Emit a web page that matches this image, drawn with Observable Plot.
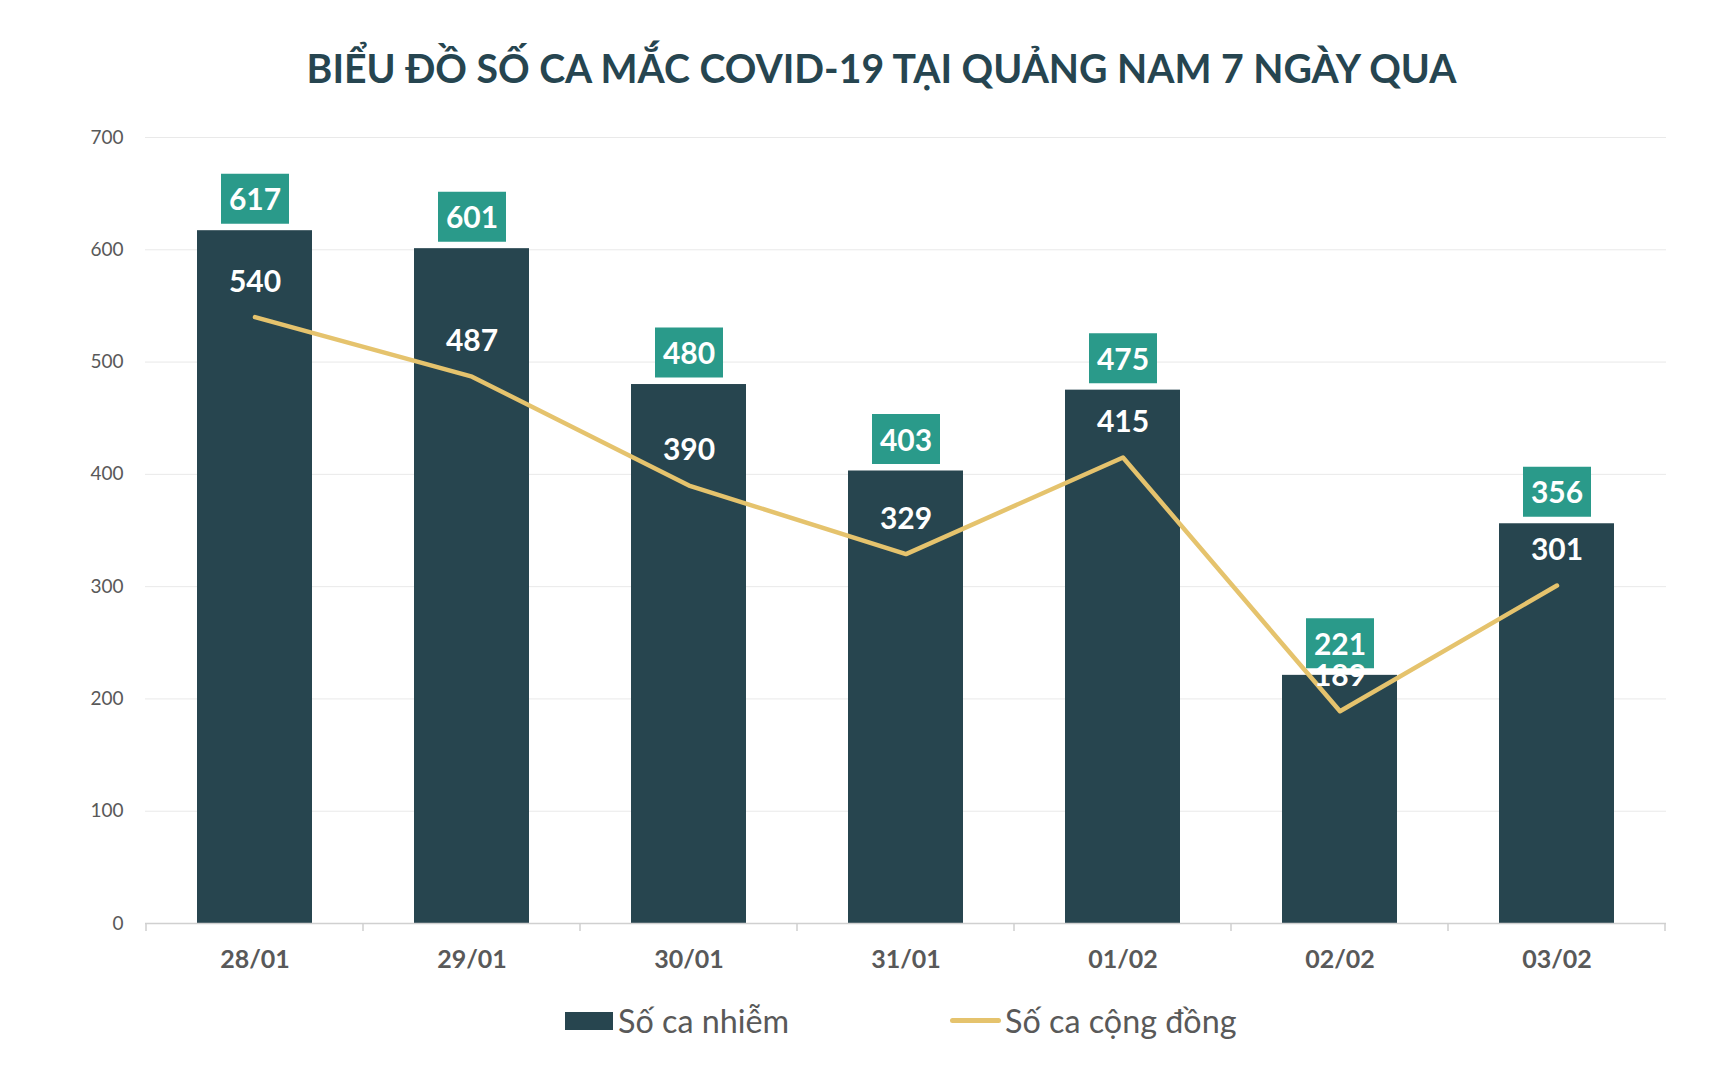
<!DOCTYPE html>
<html><head><meta charset="utf-8">
<script src="https://cdn.jsdelivr.net/npm/d3@7"></script>
<script src="https://cdn.jsdelivr.net/npm/@observablehq/plot@0.6"></script>
<style>
body{margin:0;background:#fff;font-family:Lato,sans-serif;width:1728px;height:1072px;overflow:hidden;position:relative}
#title{position:absolute;left:0;top:40px;width:1763px;text-align:center;font-weight:bold;font-size:39.2px;line-height:56px;color:#264550;white-space:nowrap}
#chart{position:absolute;left:0;top:110px}
.leg{position:absolute;top:998px;height:45px;display:flex;align-items:center;font-size:32.3px;color:#595959;white-space:nowrap}
.sw-bar{width:48px;height:18px;background:#27454f;margin-right:5px}
.sw-line{width:51px;height:5px;border-radius:3px;background:#e5c36d;margin-right:4px}
</style></head>
<body>
<div id="title"></div>
<div id="chart"></div>
<div class="leg" id="leg1" style="left:565px"><div class="sw-bar"></div><span></span></div>
<div class="leg" id="leg2" style="left:950px"><div class="sw-line"></div><span></span></div>
<script>
const titleText = "BIỂU ĐỒ SỐ CA MẮC COVID-19 TẠI QUẢNG NAM 7 NGÀY QUA";
const dates = ["28/01","29/01","30/01","31/01","01/02","02/02","03/02"];
const infected = [617,601,480,403,475,221,356];
const community = [540,487,390,329,415,189,301];
const yTicks = [0,100,200,300,400,500,600,700];
const seriesNames = ["Số ca nhiễm","Số ca cộng đồng"];

document.getElementById("title").textContent = titleText;
document.querySelector("#leg1 span").textContent = seriesNames[0];
document.querySelector("#leg2 span").textContent = seriesNames[1];

const rows = dates.map((d,i)=>({date:d, infected:infected[i], community:community[i]}));
const PAD_INNER = 0.47;

const boxSymbol = {draw(ctx){ ctx.moveTo(-34,-25); ctx.lineTo(34,-25); ctx.lineTo(34,25); ctx.lineTo(-34,25); ctx.closePath(); }};

function boundaryTicks(index, scales, values, dims) {
  const x = scales.x, y = scales.y;
  const x0 = x(dates[0]), step = x(dates[1]) - x(dates[0]);
  const y0 = y(0);
  const g = d3.create("svg:g").attr("stroke","#cfcfcf").attr("stroke-width",1.5);
  for (let i = 0; i <= dates.length; i++) {
    const bx = x0 - PAD_INNER*step/2 + i*step;
    g.append("line").attr("x1",bx).attr("x2",bx).attr("y1",y0).attr("y2",y0+8);
  }
  return g.node();
}

const chart = Plot.plot({
  width:1728, height:870,
  marginLeft:145, marginRight:62, marginTop:27, marginBottom:57,
  style:{fontFamily:"Lato, sans-serif", color:"#595959", background:"transparent", overflow:"visible"},
  x:{domain:dates, paddingInner:PAD_INNER, paddingOuter:PAD_INNER/2, label:null},
  y:{domain:[0,700], label:null},
  marks:[
    Plot.ruleY(yTicks.filter(t=>t>0), {stroke:"#e9e9e9", strokeWidth:1}),
    Plot.axisY(yTicks, {tickSize:0, tickPadding:22, fontSize:19, label:null}),
    Plot.barY(rows,{x:"date", y:"infected", fill:"#27454f"}),
    Plot.ruleY([0],{stroke:"#d0d0d0", strokeWidth:1.5}),
    boundaryTicks,
    Plot.axisX({tickSize:0, tickPadding:27, fontSize:25, fontWeight:"bold", label:null}),
    Plot.dot(rows,{x:"date", y:"infected", symbol:boxSymbol, fill:"#2a9a8a", dy:-32}),
    Plot.text(rows,{x:"date", y:"infected", text:d=>String(d.infected), dy:-30, fill:"white", fontSize:30, fontWeight:"bold"}),
    Plot.line(rows,{x:"date", y:"community", stroke:"#e5c36d", strokeWidth:4.5}),
    Plot.text(rows,{x:"date", y:"community", text:d=>String(d.community), dy:-35, fill:"white", fontSize:30, fontWeight:"bold"})
  ]
});
document.getElementById("chart").appendChild(chart);
</script>
</body></html>
